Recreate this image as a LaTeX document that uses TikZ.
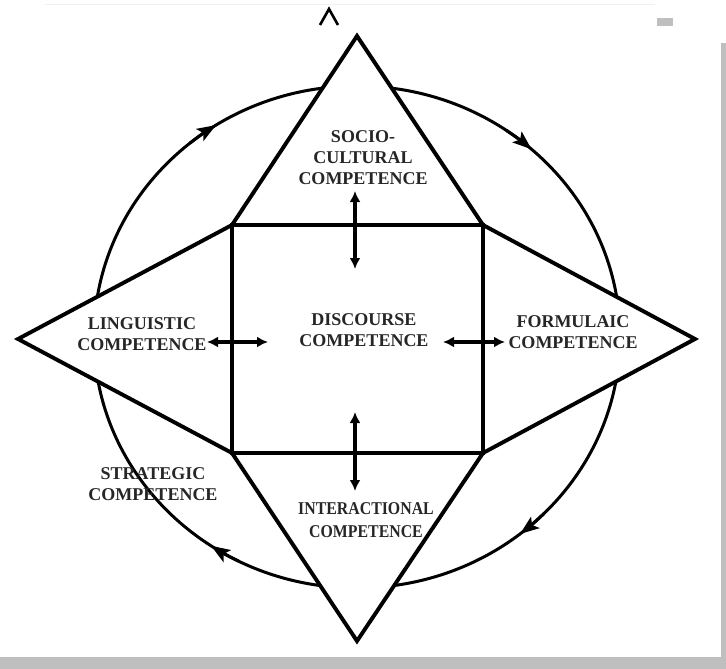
\documentclass[tikz,border=0pt]{standalone}
\usepackage{fontspec}
\setmainfont{Liberation Serif}
\usetikzlibrary{arrows.meta}
\begin{document}
\begin{tikzpicture}[x=1pt,y=-1pt,
  panel/.style={draw=black, line width=3.9pt, fill=white, line join=miter},
  lbl/.style={font=\fontsize{18}{21}\selectfont\bfseries, text=black!85, align=center, inner sep=0pt},
  dbl/.style={{Latex[length=11pt,width=11pt]}-{Latex[length=11pt,width=11pt]}, line width=3.2pt},
  ring/.style={line width=3pt},
  flow/.style={line width=3pt, -{Stealth[length=19pt,width=14pt,inset=4pt]}},
  scan/.style={fill=black!25, draw=none}
]
\useasboundingbox (0,0) rectangle (726,669);
\fill[white] (0,0) rectangle (726,669);
% scan artifacts
\fill[scan] (0,657) rectangle (726,669);
\fill[scan] (721,43) rectangle (726,669);
\fill[scan] (657,18) rectangle (673,26);
\draw[black!6, line width=1pt] (45,5) -- (655,5);
\draw[line width=2.6pt] (320,25) -- (329,9) -- (338,25);

% ring with clockwise arrows
\coordinate (C) at (357,337);
\draw[ring] (C) ellipse [x radius=263, y radius=251];
\draw[flow] (C) ++(230.6:263 and 251) arc[start angle=230.6, end angle=237.6, x radius=263, y radius=251];
\draw[flow] (C) ++(304.6:263 and 251) arc[start angle=304.6, end angle=311.6, x radius=263, y radius=251];
\draw[flow] (C) ++(44.7:263 and 251) arc[start angle=44.7, end angle=51.7, x radius=263, y radius=251];
\draw[flow] (C) ++(116.7:263 and 251) arc[start angle=116.7, end angle=123.7, x radius=263, y radius=251];

% star of four triangles around the square
\draw[panel] (357,36) -- (483,225) -- (232,225) -- cycle;
\draw[panel] (18,339) -- (232,225) -- (232,453) -- cycle;
\draw[panel] (695,339) -- (483,225) -- (483,453) -- cycle;
\draw[panel] (357,641) -- (232,453) -- (483,453) -- cycle;
\draw[panel] (232,225) rectangle (483,453);

% labels
\node[lbl] (soc) at (363,158) {SOCIO-\\CULTURAL\\COMPETENCE};
\node[lbl] (dis) at (364,330) {DISCOURSE\\COMPETENCE};
\node[lbl] (lin) at (142,334) {LINGUISTIC\\COMPETENCE};
\node[lbl] (frm) at (573,332) {FORMULAIC\\COMPETENCE};
\node[lbl] (str) at (153,484) {STRATEGIC\\COMPETENCE};
\node[lbl, xscale=0.88] (int) at (366,520) {INTERACTIONAL\\[2pt]COMPETENCE};

% double arrows
\coordinate (t1) at (355,191);
\coordinate (t2) at (355,269);
\coordinate (b1) at (355,412);
\coordinate (b2) at (355,491);
\coordinate (l1) at (207,342);
\coordinate (l2) at (268,342);
\coordinate (r1) at (443,342);
\coordinate (r2) at (505,342);
\draw[dbl] (t1) -- (t2);
\draw[dbl] (b1) -- (b2);
\draw[dbl] (l1) -- (l2);
\draw[dbl] (r1) -- (r2);
\end{tikzpicture}
\end{document}
